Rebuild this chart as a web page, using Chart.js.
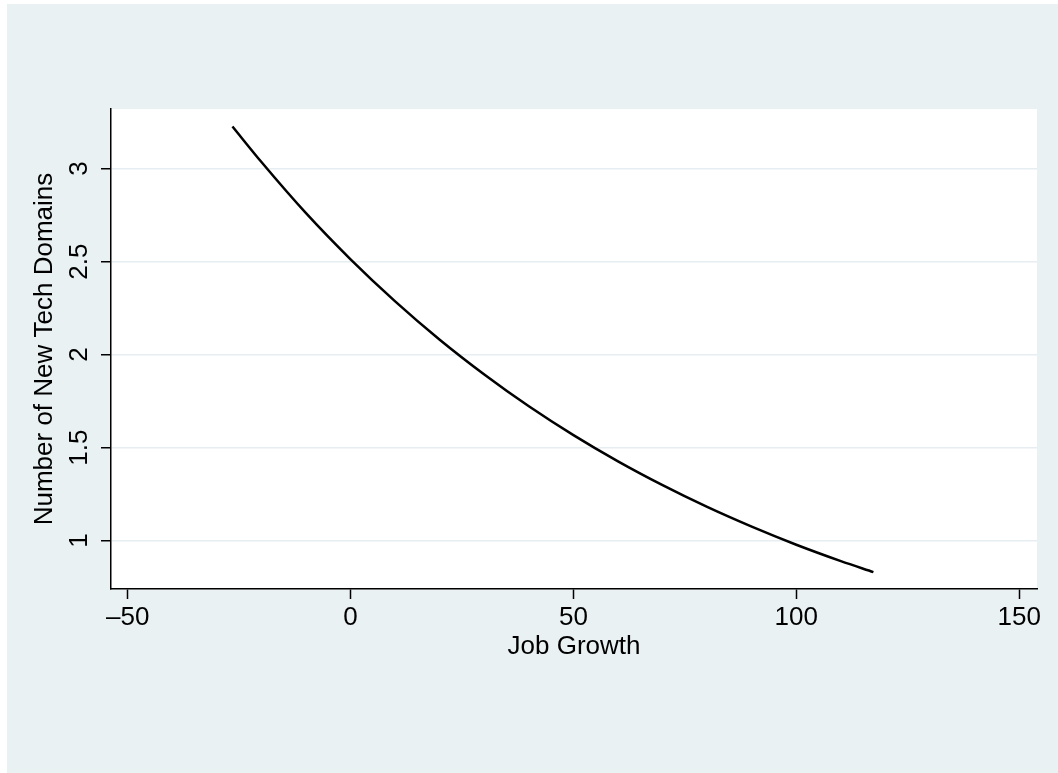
<!DOCTYPE html>
<html>
<head>
<meta charset="utf-8">
<script src="https://cdn.jsdelivr.net/npm/chart.js@4/dist/chart.umd.min.js"></script>
<style>
  html, body { margin: 0; padding: 0; background: #ffffff; }
  #wrap { width: 1058px; height: 773px; }
</style>
</head>
<body>
<div id="wrap"><canvas id="c" width="1058" height="773"></canvas></div>
<script>
// Fitted curve: job growth vs. predicted number of new tech domains
const jobGrowth    = [-26.5, -20, -10, 0, 10, 20, 30, 40, 50, 60, 70, 80, 90, 100, 110, 117.3];
const techDomains  = [3.226, 3.035, 2.760, 2.512, 2.286, 2.080, 1.893, 1.722, 1.567, 1.426, 1.298, 1.181, 1.075, 0.978, 0.890, 0.831];

const xTickValues = [-50, 0, 50, 100, 150];
const yTickValues = [1, 1.5, 2, 2.5, 3];

const xAxisTitle = 'Job Growth';
const yAxisTitle = 'Number of New Tech Domains';

const BG = '#E9F1F3';
const GRID = '#E6EEF1';
const FONT = '"Liberation Sans", Arial, Helvetica, sans-serif';
const FONT_SIZE = 26;

const points = jobGrowth.map((x, i) => ({ x: x, y: techDomains[i] }));

// Graph region and plot region backgrounds
const backdrop = {
  id: 'backdrop',
  beforeDraw(chart) {
    const { ctx, chartArea: a } = chart;
    ctx.save();
    ctx.fillStyle = '#ffffff';
    ctx.fillRect(0, 0, chart.width, chart.height);
    ctx.fillStyle = BG;
    ctx.fillRect(7, 4, chart.width - 7, chart.height - 4);
    ctx.fillStyle = '#ffffff';
    ctx.fillRect(a.left, a.top, a.right - a.left, a.bottom - a.top);
    ctx.restore();
  }
};

const dash = v => String(v).replace('-', '\u2013');

new Chart(document.getElementById('c'), {
  type: 'scatter',
  data: {
    datasets: [{
      data: points,
      showLine: true,
      borderColor: '#000000',
      borderWidth: 2.5,
      pointRadius: 0,
      cubicInterpolationMode: 'monotone',
      fill: false
    }]
  },
  options: {
    responsive: false,
    animation: false,
    devicePixelRatio: 1,
    layout: { padding: { left: 0, top: 109, right: 21, bottom: 0 } },
    plugins: { legend: { display: false }, tooltip: { enabled: false } },
    scales: {
      x: {
        type: 'linear',
        min: -53.75,
        max: 154.0,
        afterBuildTicks(scale) { scale.ticks = xTickValues.map(v => ({ value: v })); },
        afterFit(scale) { scale.height = 184; },
        border: { display: true, color: '#000000', width: 1.5 },
        grid: { drawOnChartArea: false, drawTicks: true, tickLength: 10, tickColor: '#000000', tickWidth: 1.5 },
        ticks: {
          color: '#000000',
          font: { family: FONT, size: FONT_SIZE },
          padding: 3,
          maxRotation: 0,
          callback: v => dash(v)
        },
        title: {
          display: true,
          text: xAxisTitle,
          color: '#000000',
          font: { family: FONT, size: FONT_SIZE },
          padding: { top: 0, bottom: 111 }
        }
      },
      y: {
        type: 'linear',
        min: 0.74,
        max: 3.32,
        afterBuildTicks(scale) { scale.ticks = yTickValues.map(v => ({ value: v })); },
        afterFit(scale) { scale.width = 111; },
        border: { display: true, color: '#000000', width: 1.5 },
        grid: { color: GRID, lineWidth: 1.5, drawTicks: true, tickLength: 10, tickColor: '#000000', tickWidth: 1.5 },
        ticks: {
          color: '#000000',
          font: { family: FONT, size: FONT_SIZE },
          padding: 3,
          crossAlign: 'center',
          minRotation: 90,
          maxRotation: 90,
          callback: v => dash(v)
        },
        title: {
          display: true,
          text: yAxisTitle,
          color: '#000000',
          font: { family: FONT, size: FONT_SIZE },
          padding: { top: 29, bottom: 0 }
        }
      }
    }
  },
  plugins: [backdrop]
});
</script>
</body>
</html>
